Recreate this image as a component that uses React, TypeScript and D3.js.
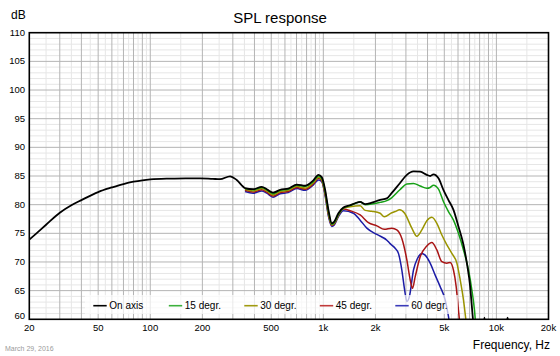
import React from 'react';
import * as d3 from 'd3';

const W = 560;
const H = 356;
const PLOT = { left: 29.3, right: 548.5, top: 32.7, bottom: 319.3 };

const X_TICKS = [20, 50, 100, 200, 500, 1000, 2000, 5000, 10000, 20000];
const X_TICK_LABELS = ['20', '50', '100', '200', '500', '1k', '2k', '5k', '10k', '20k'];
const Y_TICKS = [60, 65, 70, 75, 80, 85, 90, 95, 100, 105, 110];

const SERIES_NAMES = ['On axis', '15 degr.', '30 degr.', '45 degr.', '60 degr.'];
const SERIES_COLORS = ['#000000', '#16a016', '#9a9400', '#a81414', '#1c1ca6'];
const LEGEND_COLORS = ['#000000', '#3cb03c', '#a09a10', '#c03a3a', '#3a3ab8'];

const onAxisFreq = [20, 22, 25, 30, 35, 40, 50, 60, 70, 80, 90, 100, 130, 160, 194, 230, 253, 289, 316,
  353, 393, 441, 471, 512, 563, 626, 703, 785, 873, 937, 979, 1024, 1070, 1119, 1154, 1222,
  1306, 1428, 1526, 1632, 1744, 1906, 2130, 2328, 2480, 2760, 3038, 3318, 3627, 3964, 4143, 4329, 4628,
  4947, 5284, 5648, 6036, 6452, 6750, 7054, 7216, 7372, 7600, 8000, 8400, 8530, 8660, 9500, 11300, 11600, 11900, 13000, 20000];
const onAxisDb = [73.9, 75.0, 76.5, 78.6, 79.9, 80.8, 82.2, 83.0, 83.6, 84.0, 84.25, 84.4, 84.55, 84.6, 84.6, 84.5, 84.45, 84.95, 84.3,
  82.9, 82.7, 83.1, 82.7, 82.1, 82.6, 82.8, 83.5, 83.3, 84.2, 85.2, 84.8, 82.6, 79.1, 76.75, 77.0, 78.5,
  79.5, 79.9, 80.25, 80.5, 80.1, 80.35, 80.85, 81.1, 82.0, 83.7, 85.2, 85.8, 85.75, 85.2, 85.0, 85.3, 84.6,
  82.55, 80.8, 79.1, 76.2, 73.0, 69.8, 65.7, 62.2, 59.0, 56.0, 55.5, 58.0, 60.3, 58.0, 55.0, 58.0, 60.3, 58.0, 55.0, 50.0];

const offAxisLowFreq = [353, 393, 441, 471, 512, 563, 626, 703, 785, 873, 937, 979, 1024, 1070, 1119, 1154, 1222];

const deg15LowDb = [82.8, 82.6, 83.0, 82.6, 81.9, 82.5, 82.7, 83.4, 83.2, 84.0, 85.0, 84.6, 82.3, 78.8, 76.6, 76.8, 78.3];
const deg15HighFreq = [1306, 1428, 1526, 1632, 1744, 1906, 2130, 2328, 2480, 2760, 3038, 3318, 3627, 3964, 4143, 4329, 4628,
  4947, 5284, 5648, 6036, 6452, 6900, 7216, 7471, 7700, 9000];
const deg15HighDb = [79.4, 79.85, 80.2, 80.45, 80.0, 80.1, 80.4, 80.7, 81.2, 82.55, 83.6, 83.7, 83.25, 82.85, 83.0, 83.4, 82.7,
  80.5, 78.8, 77.3, 75.0, 72.1, 68.6, 65.1, 61.6, 57.0, 52.0];

const deg30LowDb = [82.7, 82.4, 82.8, 82.4, 81.7, 82.3, 82.5, 83.2, 82.9, 83.8, 84.8, 84.4, 82.0, 78.5, 76.5, 76.7, 78.2];
const deg30HighFreq = [1306, 1428, 1632, 1744, 1906, 2130, 2250, 2488, 2600, 2760, 2950, 3246, 3470, 3709, 3964, 4236, 4528,
  4840, 5173, 5529, 5910, 6176, 6452, 6660, 6900];
const deg30HighDb = [79.4, 79.65, 79.8, 79.0, 78.85, 78.5, 77.9, 78.6, 78.8, 79.1, 78.5, 75.9, 74.5, 75.6, 77.2, 77.8, 76.75,
  74.7, 73.0, 71.5, 69.8, 66.9, 63.4, 60.0, 56.0];

const deg45LowDb = [82.5, 82.2, 82.6, 82.2, 81.5, 82.1, 82.3, 83.0, 82.7, 83.6, 84.6, 84.2, 81.8, 78.3, 76.4, 76.6, 78.1];
const deg45HighFreq = [1306, 1428, 1632, 1822, 2038, 2250, 2488, 2658, 2842, 3038, 3175, 3274, 3393, 3627, 3964, 4236, 4528,
  4840, 5173, 5404, 5648, 5856, 6036, 6250];
const deg45HighDb = [79.25, 78.95, 78.2, 76.85, 76.3, 75.7, 75.9, 75.6, 74.1, 70.35, 66.9, 65.4, 67.4, 70.9, 72.8, 73.4, 72.1,
  70.05, 69.8, 69.9, 68.6, 65.7, 61.6, 57.0];

const deg60LowDb = [82.3, 82.0, 82.4, 82.0, 81.3, 81.9, 82.1, 82.8, 82.5, 83.4, 84.3, 84.0, 81.6, 78.0, 76.2, 76.4, 77.9];
const deg60HighFreq = [1306, 1492, 1632, 1784, 2038, 2328, 2432, 2600, 2716, 2842, 2950, 3038, 3144, 3318, 3498, 3709, 3876,
  4143, 4428, 4732, 5058, 5284, 5500];
const deg60HighDb = [78.95, 78.5, 77.3, 75.9, 74.8, 73.8, 73.2, 72.4, 71.5, 68.6, 65.1, 63.1, 64.0, 68.6, 70.6, 71.5, 71.2,
  69.8, 67.7, 65.7, 63.4, 60.5, 57.0];

const FONT = 'Liberation Sans, Arial, Helvetica, sans-serif';

function zip(f: number[], v: number[]): [number, number][] {
  return f.map((fr, i) => [fr, v[i]] as [number, number]);
}

export default function App() {
  const x = d3.scaleLog().domain([20, 20000]).range([PLOT.left, PLOT.right]);
  const y = d3.scaleLinear().domain([60, 110]).range([PLOT.bottom, PLOT.top]);
  const line = d3
    .line<[number, number]>()
    .x((d) => x(d[0]))
    .y((d) => y(d[1]))
    .curve(d3.curveMonotoneX);

  const seriesData: [number, number][][] = [
    zip(onAxisFreq, onAxisDb),
    zip(offAxisLowFreq.concat(deg15HighFreq), deg15LowDb.concat(deg15HighDb)),
    zip(offAxisLowFreq.concat(deg30HighFreq), deg30LowDb.concat(deg30HighDb)),
    zip(offAxisLowFreq.concat(deg45HighFreq), deg45LowDb.concat(deg45HighDb)),
    zip(offAxisLowFreq.concat(deg60HighFreq), deg60LowDb.concat(deg60HighDb)),
  ];

  const majorV: number[] = [];
  const minorV: number[] = [];
  for (let d = 10; d <= 10000; d *= 10) {
    for (let k = 1; k <= 9; k++) {
      const f = k * d;
      if (f > 20 && f < 20000) majorV.push(f);
      const fm = (k + 0.5) * d;
      if (fm > 20 && fm < 20000 && k < 9.5) minorV.push(fm);
    }
  }
  const minorH: number[] = [];
  const majorH: number[] = [];
  for (let v = 61; v < 110; v++) {
    if (v % 5 === 0) majorH.push(v);
    else minorH.push(v);
  }

  const legendX0 = 93.3;
  const legendStep = 75.5;
  const legendY = 305.7;

  return (
    <svg
      width={W}
      height={H}
      style={{ position: 'absolute', left: 0, top: 0, display: 'block', background: '#fff' }}
      fontFamily={FONT}
    >
      <defs>
        <clipPath id="plotclip">
          <rect x={PLOT.left} y={PLOT.top} width={PLOT.right - PLOT.left} height={PLOT.bottom - PLOT.top} />
        </clipPath>
      </defs>
      <rect x={0} y={0} width={W} height={H} fill="#fff" />
      <text x={280} y={23} textAnchor="middle" fontSize={15} fill="#000">SPL response</text>
      <text x={11} y={19} fontSize={12} fill="#000">dB</text>

      {/* grid */}
      <g>
        {minorH.map((v) => (
          <line key={'mh' + v} x1={PLOT.left} x2={PLOT.right} y1={y(v)} y2={y(v)} stroke="#e6e6e6" strokeWidth={1} />
        ))}
        {minorV.map((f) => (
          <line key={'mv' + f} x1={x(f)} x2={x(f)} y1={PLOT.top} y2={PLOT.bottom} stroke="#e6e6e6" strokeWidth={1} />
        ))}
        {majorH.map((v) => (
          <line key={'Mh' + v} x1={PLOT.left} x2={PLOT.right} y1={y(v)} y2={y(v)} stroke="#b4b4b4" strokeWidth={1} />
        ))}
        {majorV.map((f) => (
          <line key={'Mv' + f} x1={x(f)} x2={x(f)} y1={PLOT.top} y2={PLOT.bottom} stroke="#b4b4b4" strokeWidth={1} />
        ))}
      </g>

      {/* curves */}
      <g clipPath="url(#plotclip)">
        {seriesData
          .map((data, i) => ({ data, i }))
          .reverse()
          .map(({ data, i }) => (
            <path
              key={'s' + i}
              d={line(data) || ''}
              fill="none"
              stroke={SERIES_COLORS[i]}
              strokeWidth={i === 0 ? 1.8 : 1.5}
              strokeLinejoin="round"
            />
          ))}
      </g>

      {/* legend */}
      <rect x={85} y={295} width={373} height={19} fill="#fff" fillOpacity={0.7} />
      {SERIES_NAMES.map((name, i) => (
        <g key={'lg' + i}>
          <line
            x1={legendX0 + i * legendStep}
            x2={legendX0 + i * legendStep + 13.4}
            y1={legendY}
            y2={legendY}
            stroke={LEGEND_COLORS[i]}
            strokeWidth={1.6}
          />
          <text x={legendX0 + i * legendStep + 16} y={legendY + 3.6} fontSize={10} fill="#000">
            {name}
          </text>
        </g>
      ))}

      {/* frame */}
      <rect
        x={PLOT.left}
        y={PLOT.top}
        width={PLOT.right - PLOT.left}
        height={PLOT.bottom - PLOT.top}
        fill="none"
        stroke="#000"
        strokeWidth={1.6}
      />

      {/* y ticks */}
      {Y_TICKS.map((v) => (
        <text key={'yt' + v} x={25} y={v === 60 ? y(v) : y(v) + 3} textAnchor="end" fontSize={9.5} fill="#000">
          {v}
        </text>
      ))}
      {/* x ticks */}
      {X_TICKS.map((f, i) => (
        <text key={'xt' + f} x={x(f)} y={331} textAnchor="middle" fontSize={9.5} fill="#000">
          {X_TICK_LABELS[i]}
        </text>
      ))}
      <text x={550} y={349} textAnchor="end" fontSize={12} fill="#000">Frequency, Hz</text>
      <text x={5} y={351} fontSize={7} fill="#9a9a9a">March 29, 2016</text>
    </svg>
  );
}
